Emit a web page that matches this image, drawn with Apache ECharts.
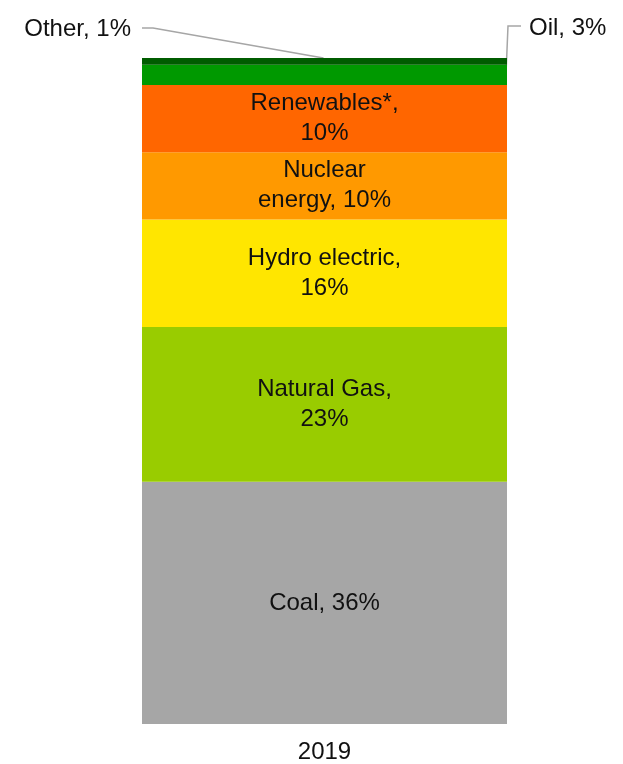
<!DOCTYPE html>
<html>
<head>
<meta charset="utf-8">
<script src="https://cdn.jsdelivr.net/npm/echarts@6/dist/echarts.min.js"></script>
<style>
  html, body { margin: 0; padding: 0; background: #ffffff; }
  #chart { width: 623px; height: 764px; }
</style>
</head>
<body>
<div id="chart"></div>
<script>
// Electricity generation mix, share of total (%)
const years = ['2019'];
const sources = ['Coal', 'Natural Gas', 'Hydro electric', 'Nuclear energy', 'Renewables*', 'Oil', 'Other'];
const shares = [36, 23, 16, 10, 10, 3, 1];
const labelTexts = ['Coal, 36%', 'Natural Gas,\n23%', 'Hydro electric,\n16%', 'Nuclear\nenergy, 10%', 'Renewables*,\n10%', 'Oil, 3%', 'Other, 1%'];
const colors = ['#a6a6a6', '#99cc00', '#ffe600', '#ff9900', '#ff6600', '#009900', '#005c00'];

const FONT = '"Liberation Sans", Arial, sans-serif';
const total = shares.reduce((a, b) => a + b, 0);

const chart = echarts.init(document.getElementById('chart'), null, { renderer: 'canvas' });

// Small segments get their labels outside the bar, joined by leader lines
const outsideLayout = {
  'Oil': { x: 529, y: 28, align: 'left', verticalAlign: 'middle' },
  'Other': { x: 131, y: 29, align: 'right', verticalAlign: 'middle' }
};

const series = sources.map((name, i) => {
  const outside = outsideLayout[name];
  return {
    name: name,
    type: 'bar',
    stack: 'mix',
    barWidth: '100%',
    data: [shares[i]],
    itemStyle: { color: colors[i] },
    emphasis: { disabled: true },
    label: {
      show: true,
      position: 'inside',
      formatter: labelTexts[i],
      color: '#111111',
      fontFamily: FONT,
      fontSize: 24,
      lineHeight: 30,
      align: 'center'
    },
    labelLayout: outside ? outside : undefined
  };
});

chart.setOption({
  animation: false,
  backgroundColor: '#ffffff',
  grid: { left: 142, right: 116, top: 58, bottom: 40 },
  xAxis: {
    type: 'category',
    data: years,
    axisLine: { show: false },
    axisTick: { show: false },
    axisLabel: { color: '#111111', fontFamily: FONT, fontSize: 24, margin: 16 }
  },
  yAxis: {
    type: 'value',
    min: 0,
    max: total,
    show: false,
    splitLine: { show: false }
  },
  series: series
});

// Leader lines for the two thin top segments
function cumulative(idx) {
  let s = 0;
  for (let k = 0; k < idx; k++) s += shares[k];
  return s;
}
const gridRect = chart.getModel().getComponent('grid').coordinateSystem.getRect();
const oilIdx = sources.indexOf('Oil');
const otherIdx = sources.indexOf('Other');

const otherTop = chart.convertToPixel({ seriesIndex: otherIdx }, [years[0], cumulative(otherIdx) + shares[otherIdx]]);
const oilMid = chart.convertToPixel({ seriesIndex: oilIdx }, [years[0], cumulative(oilIdx) + shares[oilIdx] * 0.55]);
const barRight = gridRect.x + gridRect.width;

const lineStyle = { stroke: '#a6a6a6', lineWidth: 1.5, fill: null };
chart.setOption({
  graphic: [
    {
      type: 'polyline',
      shape: { points: [[142, 28], [153, 28], [otherTop[0] - 1, otherTop[1]]] },
      style: lineStyle,
      silent: true
    },
    {
      type: 'polyline',
      shape: { points: [[521, 26], [508, 26], [barRight - 1, oilMid[1]]] },
      style: lineStyle,
      silent: true
    }
  ]
});
</script>
</body>
</html>
